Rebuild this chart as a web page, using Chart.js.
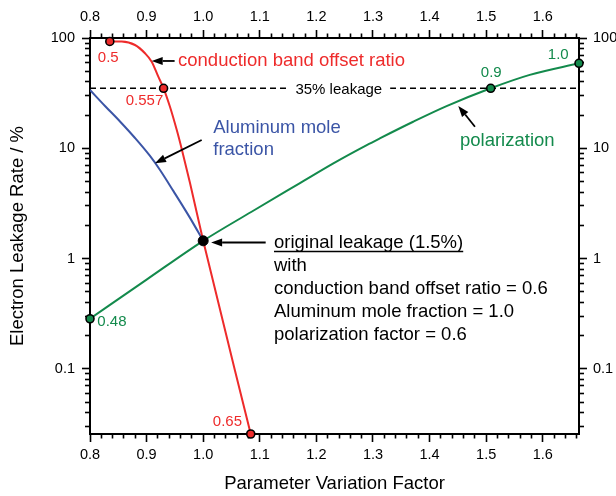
<!DOCTYPE html>
<html>
<head>
<meta charset="utf-8">
<script src="https://cdn.jsdelivr.net/npm/chart.js@4.4.1/dist/chart.umd.min.js"></script>
<style>
    html, body { margin: 0; padding: 0; background: #fff; }
    #wrap { width: 616px; height: 496px; }
</style>
</head>
<body>
<div id="wrap"><canvas id="leakageChart" width="616" height="496"></canvas></div>
<script>
// axis ticks
var xTicks = [0.8, 0.9, 1.0, 1.1, 1.2, 1.3, 1.4, 1.5, 1.6];
var yTicks = [0.1, 1, 10, 100];
var xMin = 0.8, xMax = 1.664;
var yMin = 0.0257, yMax = 100;

// conduction band offset ratio curve
var offsetX = [0.835, 0.856, 0.8795, 0.8972, 0.909, 0.9207, 0.93, 0.9413, 0.9532, 0.9625, 0.9767, 1.0, 1.084];
var offsetY = [93, 92.9, 86.4, 72.7, 61, 44.6, 35, 23.8, 14.7, 9.66, 4.85, 1.45, 0.0257];

// aluminum mole fraction curve
var aluminumX = [0.8, 0.8265, 0.853, 0.8795, 0.906, 0.9237, 0.9472, 0.9767, 1.0];
var aluminumY = [33.8, 24.2, 17.5, 12.4, 8.52, 6.36, 4.11, 2.34, 1.45];

// polarization curve
var polarX = [0.8, 0.9, 1.0, 1.0855, 1.171, 1.23, 1.289, 1.312, 1.371, 1.43, 1.508, 1.577, 1.664];
var polarY = [0.285, 0.645, 1.45, 2.66, 4.84, 7.31, 10.7, 12.3, 17.4, 24.1, 35, 46.3, 59];

// marked points and their labels
var offsetMarkX = [0.835, 0.93, 1.084];
var offsetMarkY = [93, 35, 0.0257];
var offsetMarkLabels = ['0.5', '0.557', '0.65'];
var polarMarkX = [0.8, 1.508, 1.664];
var polarMarkY = [0.285, 35, 59];
var polarMarkLabels = ['0.48', '0.9', '1.0'];
var originalX = [1.0];
var originalY = [1.45];

// 35% leakage level
var leakageLimit = 35;

var RED = '#ee2b2b';
var BLUE = '#3b55a6';
var GREEN = '#138a4c';
var FONT = "'Liberation Sans', Arial, Helvetica, sans-serif";

function toPoints(xs, ys) {
    return xs.map(function (x, i) { return { x: x, y: ys[i] }; });
}

// minor tick positions: every 0.02 on x, 2..9 per decade on y
var xMinorTicks = [];
for (var i = 0; xMin + i * 0.02 <= xMax + 1e-9; i++) {
    if (i % 5 !== 0) xMinorTicks.push(xMin + i * 0.02);
}
var yMinorTicks = [];
for (var d = -2; d <= 1; d++) {
    for (var m = 2; m <= 9; m++) {
        var yv = m * Math.pow(10, d);
        if (yv >= yMin && yv <= yMax) yMinorTicks.push(yv);
    }
}

function drawArrow(ctx, x1, y1, x2, y2) {
    var ang = Math.atan2(y2 - y1, x2 - x1);
    var hl = 11, hw = 4;
    var bx = x2 - hl * Math.cos(ang), by = y2 - hl * Math.sin(ang);
    ctx.beginPath();
    ctx.moveTo(x1, y1);
    ctx.lineTo(bx, by);
    ctx.stroke();
    ctx.beginPath();
    ctx.moveTo(x2, y2);
    ctx.lineTo(bx + hw * Math.sin(ang), by - hw * Math.cos(ang));
    ctx.lineTo(bx - hw * Math.sin(ang), by + hw * Math.cos(ang));
    ctx.closePath();
    ctx.fill();
}

// labels, arrows and axis titles
var notes = {
    id: 'notes',
    afterDatasetsDraw: function (chart) {
        var ctx = chart.ctx;
        var area = chart.chartArea;
        var sx = chart.scales.x, sy = chart.scales.y;
        function X(v) { return sx.getPixelForValue(v); }
        function Y(v) { return sy.getPixelForValue(v); }
        function text(str, x, y, color, size, align) {
            ctx.font = size + 'px ' + FONT;
            ctx.fillStyle = color;
            ctx.textAlign = align || 'left';
            ctx.textBaseline = 'middle';
            ctx.fillText(str, x, y);
        }
        ctx.save();
        ctx.setLineDash([]);

        // 35% leakage label over the dashed line
        ctx.font = '15px ' + FONT;
        var lw = ctx.measureText('35% leakage').width;
        var cx = X(1.2396), cy = Y(leakageLimit);
        ctx.fillStyle = '#fff';
        ctx.fillRect(cx - lw / 2 - 8, cy - 6, lw + 16, 12);
        text('35% leakage', cx, cy + 2, '#000', 15, 'center');

        // marker value labels
        text(offsetMarkLabels[0], X(0.8323), Y(65.5), RED, 15, 'center');
        text(offsetMarkLabels[1], X(0.8963), Y(26.8), RED, 15, 'center');
        text(offsetMarkLabels[2], X(1.0686), Y(0.0333), RED, 15, 'right');
        text(polarMarkLabels[0], X(0.8129), Y(0.2684), GREEN, 15, 'left');
        text(polarMarkLabels[1], X(1.509), Y(47.9), GREEN, 15, 'center');
        text(polarMarkLabels[2], X(1.6274), Y(70.1), GREEN, 15, 'center');

        // curve names
        text('conduction band offset ratio', X(0.9555), Y(61.9), RED, 18.5, 'left');
        text('Aluminum mole', X(1.0178), Y(15.2), BLUE, 18.5, 'left');
        text('fraction', X(1.0178), Y(9.66), BLUE, 18.5, 'left');
        text('polarization', X(1.4537), Y(11.6), GREEN, 18.5, 'left');

        // arrows
        ctx.strokeStyle = '#000';
        ctx.fillStyle = '#000';
        ctx.lineWidth = 1.8;
        drawArrow(ctx, X(0.9495), Y(61.9), X(0.909), Y(61.9));
        drawArrow(ctx, X(0.9973), Y(11.9), X(0.9148), Y(7.32));
        drawArrow(ctx, X(1.4802), Y(15.7), X(1.4507), Y(24.2));
        drawArrow(ctx, X(1.1104), Y(1.4), X(1.014), Y(1.4));

        // original leakage block
        var bx = X(1.1251), by = Y(1.4);
        var lines = ['original leakage (1.5%)', 'with', 'conduction band offset ratio = 0.6',
            'Aluminum mole fraction = 1.0', 'polarization factor = 0.6'];
        lines.forEach(function (s, i) {
            text(s, bx, by + i * 23, '#000', 18.5, 'left');
        });
        ctx.font = '18.5px ' + FONT;
        var uw = ctx.measureText(lines[0]).width;
        ctx.strokeStyle = '#000';
        ctx.lineWidth = 1.5;
        ctx.beginPath();
        ctx.moveTo(bx, by + 9);
        ctx.lineTo(bx + uw, by + 9);
        ctx.stroke();

        // axis titles
        text('Parameter Variation Factor', (area.left + area.right) / 2, 484, '#000', 18.5, 'center');
        ctx.save();
        ctx.translate(17.5, (area.top + area.bottom) / 2);
        ctx.rotate(-Math.PI / 2);
        text('Electron Leakage Rate / %', 0, 0, '#000', 18.5, 'center');
        ctx.restore();

        ctx.restore();
    }
};

var tickFont = { family: FONT, size: 14.5 };
var frameBorder = { display: true, width: 2, color: '#000' };
var noBorder = { display: false };

function tickGrid(len) {
    return { display: true, drawOnChartArea: false, drawTicks: true, tickLength: len, tickWidth: 1.6, tickColor: '#000' };
}
function setTicks(values) {
    return function (scale) { scale.ticks = values.map(function (v) { return { value: v }; }); };
}
function fixSize(prop, size) {
    return function (scale) { scale[prop] = size; };
}
function fmtX(v) { return Number(v).toFixed(1); }
function fmtY(v) { return String(v); }

// labelled axis with long ticks
function majorAxis(type, position, min, max, values, fmt, prop, size, padding) {
    return {
        type: type, position: position, min: min, max: max, weight: 1,
        afterBuildTicks: setTicks(values),
        afterFit: fixSize(prop, size),
        ticks: { callback: fmt, font: tickFont, color: '#000', padding: padding, maxRotation: 0, autoSkip: false },
        grid: tickGrid(8), border: frameBorder
    };
}
// unlabelled axis with short ticks, sitting on the frame
function minorAxis(type, position, min, max, values, prop, len) {
    return {
        type: type, position: position, min: min, max: max, weight: 0,
        afterBuildTicks: setTicks(values),
        afterFit: fixSize(prop, 0),
        ticks: { display: false },
        grid: tickGrid(len), border: noBorder
    };
}

var lineStyle = { pointRadius: 0, borderWidth: 2, cubicInterpolationMode: 'monotone' };

var leakageChart = new Chart(document.getElementById('leakageChart'), {
    type: 'line',
    data: {
        datasets: [
            {
                data: toPoints(originalX, originalY),
                showLine: false, pointRadius: 5, pointBackgroundColor: '#000',
                pointBorderColor: '#000', pointBorderWidth: 1, clip: false
            },
            {
                data: toPoints(offsetMarkX, offsetMarkY),
                showLine: false, pointRadius: 4, pointBackgroundColor: RED,
                pointBorderColor: '#000', pointBorderWidth: 1.6, clip: false
            },
            {
                data: toPoints(polarMarkX, polarMarkY),
                showLine: false, pointRadius: 4, pointBackgroundColor: GREEN,
                pointBorderColor: '#000', pointBorderWidth: 1.6, clip: false
            },
            Object.assign({ data: toPoints(offsetX, offsetY), borderColor: RED }, lineStyle),
            Object.assign({ data: toPoints(polarX, polarY), borderColor: GREEN }, lineStyle),
            Object.assign({ data: toPoints(aluminumX, aluminumY), borderColor: BLUE }, lineStyle),
            {
                data: [{ x: xMin, y: leakageLimit }, { x: xMax, y: leakageLimit }],
                borderColor: '#000', borderWidth: 1.6, borderDash: [6, 4], pointRadius: 0
            }
        ]
    },
    options: {
        responsive: false,
        animation: false,
        events: [],
        layout: { padding: 0 },
        plugins: { legend: { display: false }, tooltip: { enabled: false } },
        scales: {
            x: majorAxis('linear', 'bottom', xMin, xMax, xTicks, fmtX, 'height', 62, 4),
            x2: majorAxis('linear', 'top', xMin, xMax, xTicks, fmtX, 'height', 38, 4),
            y: majorAxis('logarithmic', 'left', yMin, yMax, yTicks, fmtY, 'width', 90, 7),
            y2: majorAxis('logarithmic', 'right', yMin, yMax, yTicks, fmtY, 'width', 37, 6),
            xMinor: minorAxis('linear', 'bottom', xMin, xMax, xMinorTicks, 'height', 4.5),
            x2Minor: minorAxis('linear', 'top', xMin, xMax, xMinorTicks, 'height', 4.5),
            yMinor: minorAxis('logarithmic', 'left', yMin, yMax, yMinorTicks, 'width', 5),
            y2Minor: minorAxis('logarithmic', 'right', yMin, yMax, yMinorTicks, 'width', 5)
        }
    },
    plugins: [notes]
});
</script>
</body>
</html>
